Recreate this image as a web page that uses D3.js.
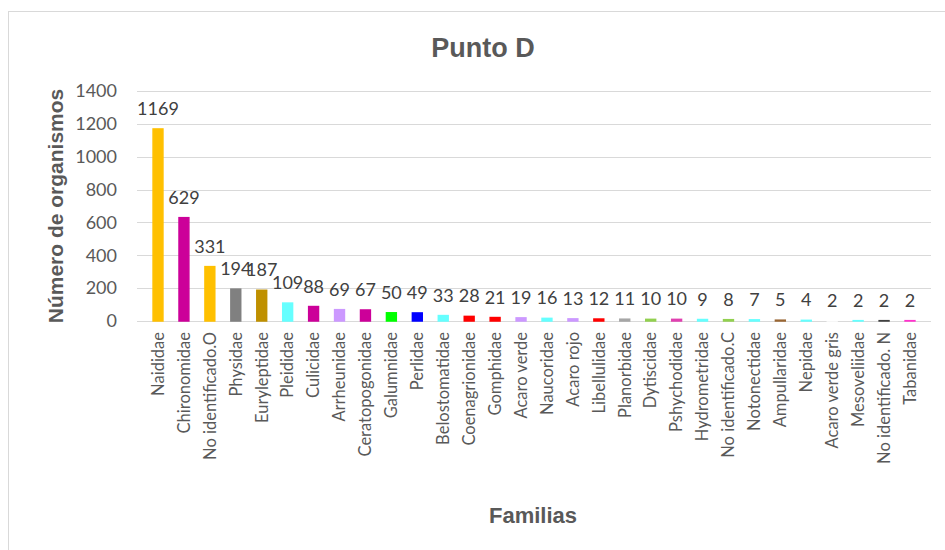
<!DOCTYPE html>
<html>
<head>
<meta charset="utf-8">
<script src="https://cdn.jsdelivr.net/npm/d3@7"></script>
<style>
  body { margin: 0; background: #fff; }
</style>
</head>
<body>
<script>
var w = 945;
var h = 550;

// data
var familias = ["Naididae", "Chironomidae", "No identificado.O", "Physidae", "Euryleptidae",
    "Pleididae", "Culicidae", "Arrheunidae", "Ceratopogonidae", "Galumnidae", "Perlidae",
    "Belostomatidae", "Coenagrionidae", "Gomphidae", "Acaro verde", "Naucoridae", "Acaro rojo",
    "Libellulidae", "Planorbidae", "Dytiscidae", "Pshychodidae", "Hydrometridae",
    "No identificado.C", "Notonectidae", "Ampullaridae", "Nepidae", "Acaro verde gris",
    "Mesoveliidae", "No identificado. N", "Tabanidae"];
var organismos = [1169, 629, 331, 194, 187, 109, 88, 69, 67, 50, 49, 33, 28, 21, 19, 16, 13,
    12, 11, 10, 10, 9, 8, 7, 5, 4, 2, 2, 2, 2];
var colores = ["#FFC000", "#CC0099", "#FFC000", "#808080", "#BF9000", "#66FFFF", "#CC0099",
    "#CC99FF", "#CC0099", "#00FF00", "#0000FF", "#66FFFF", "#FF0000", "#FF0000", "#CC99FF",
    "#66FFFF", "#CC99FF", "#FF0000", "#A6A6A6", "#92D050", "#E040B0", "#66FFFF", "#92D050",
    "#66FFFF", "#996633", "#66FFFF", "#FFFFFF", "#66FFFF", "#404040", "#FF33CC"];
var yTicks = [0, 200, 400, 600, 800, 1000, 1200, 1400];

var data = familias.map(function(f, i) {
    return { familia: f, valor: organismos[i], color: colores[i] };
});

var svg = d3.select("body")
    .append("svg")
    .attr("width", w)
    .attr("height", h);

// chart frame
svg.append("rect")
    .attr("x", 8.5)
    .attr("y", 11.5)
    .attr("width", 960)
    .attr("height", 600)
    .attr("fill", "none")
    .attr("stroke", "#D9D9D9");

var x = d3.scaleBand()
    .domain(familias)
    .range([137, 931])
    .padding(0.62);

var y = d3.scaleLinear()
    .domain([0, 1400])
    .range([321, 91]);

// gridlines
svg.append("g")
    .selectAll("line")
    .data(yTicks)
    .enter()
    .append("line")
    .attr("x1", 137)
    .attr("x2", 931)
    .attr("y1", function(d) { return Math.round(y(d)) + 0.5; })
    .attr("y2", function(d) { return Math.round(y(d)) + 0.5; })
    .attr("stroke", "#D9D9D9")
    .attr("stroke-width", 1.2);

// y axis labels
var yAxis = d3.axisLeft(y).tickValues(yTicks).tickFormat(d3.format("d")).tickSize(0).tickPadding(0);
var gy = svg.append("g")
    .attr("transform", "translate(117,0)")
    .call(yAxis);
gy.select(".domain").remove();
gy.selectAll("text")
    .attr("font-family", "Lato, 'Open Sans', sans-serif")
    .attr("font-size", "18px")
    .attr("fill", "#595959");

// bars
svg.append("g")
    .selectAll("rect")
    .data(data)
    .enter()
    .append("rect")
    .attr("x", function(d) { return x(d.familia); })
    .attr("y", function(d) { return y(d.valor); })
    .attr("width", x.bandwidth())
    .attr("height", function(d) { return y(0) - y(d.valor); })
    .attr("fill", function(d) { return d.color; })
    .attr("stroke", function(d) { return d.color; })
    .attr("stroke-width", 1.5);

// value labels
svg.append("g")
    .selectAll("text")
    .data(data)
    .enter()
    .append("text")
    .attr("x", function(d) { return x(d.familia) + x.bandwidth() / 2; })
    .attr("y", function(d) { return y(d.valor) - 14; })
    .attr("text-anchor", "middle")
    .attr("font-family", "Lato, 'Open Sans', sans-serif")
    .attr("font-size", "18px")
    .attr("fill", "#404040")
    .text(function(d) { return d.valor; });

// x axis labels (rotated)
var xAxis = d3.axisBottom(x).tickSize(0).tickPadding(0);
var gx = svg.append("g")
    .attr("transform", "translate(0,332)")
    .call(xAxis);
gx.select(".domain").remove();
gx.selectAll("text")
    .attr("font-family", "Lato, 'Open Sans', sans-serif")
    .attr("font-size", "16.5px")
    .attr("fill", "#595959")
    .attr("text-anchor", "end")
    .attr("dy", "0.35em")
    .attr("transform", "rotate(-90)")
    .attr("x", 0)
    .attr("y", 0);

// title
svg.append("text")
    .attr("x", 483)
    .attr("y", 57)
    .attr("text-anchor", "middle")
    .attr("font-family", "'Liberation Sans', Arial, sans-serif")
    .attr("font-weight", "bold")
    .attr("font-size", "27px")
    .attr("fill", "#595959")
    .text("Punto D");

// axis titles
svg.append("text")
    .attr("transform", "translate(63,206) rotate(-90)")
    .attr("text-anchor", "middle")
    .attr("font-family", "'Liberation Sans', Arial, sans-serif")
    .attr("font-weight", "bold")
    .attr("font-size", "21px")
    .attr("fill", "#595959")
    .text("Número de organismos");

svg.append("text")
    .attr("x", 533)
    .attr("y", 523)
    .attr("text-anchor", "middle")
    .attr("font-family", "'Liberation Sans', Arial, sans-serif")
    .attr("font-weight", "bold")
    .attr("font-size", "22px")
    .attr("fill", "#595959")
    .text("Familias");
</script>
</body>
</html>
